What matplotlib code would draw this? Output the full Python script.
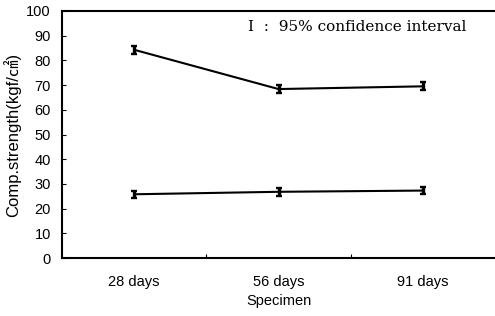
import matplotlib
matplotlib.use("Agg")
import matplotlib.pyplot as plt

categories = ["28 days", "56 days", "91 days"]
upper_values = [84.3, 68.4, 69.5]
upper_err = [1.6, 1.6, 1.6]
lower_values = [25.8, 26.8, 27.3]
lower_err = [1.5, 1.5, 1.5]
y_ticks = [0, 10, 20, 30, 40, 50, 60, 70, 80, 90, 100]

plt.rcParams['font.family'] = ['Liberation Sans', 'Noto Sans CJK KR', 'DejaVu Sans']

fig = plt.figure(figsize=(4.95, 3.16), dpi=100)
ax = fig.add_axes([62/495, 1-258/316, 1-62/495, (258-11)/316])

xpos = [i + 0.5 for i in range(len(categories))]
for vals, errs in [(upper_values, upper_err), (lower_values, lower_err)]:
    ax.errorbar(xpos, vals, yerr=errs, color='black', lw=1.5,
                elinewidth=2.4, capsize=2.5, capthick=1.7)

ax.set_xlim(0, 3)
ax.set_ylim(0, 100)
ax.set_yticks(y_ticks)
ax.set_yticklabels([str(t) for t in y_ticks], fontsize=10.5)
ax.tick_params(axis='y', direction='in', length=3, width=0.8, pad=8)
ax.set_xticks([1, 2], minor=False)
ax.set_xticklabels([])
ax.tick_params(axis='x', direction='in', length=3, width=0.8)
ax.set_xticks(xpos, minor=True)
ax.set_xticklabels(categories, minor=True, fontsize=10.5)
ax.tick_params(axis='x', which='minor', length=0, pad=12)

for s in ['left', 'bottom', 'top']:
    ax.spines[s].set_linewidth(1.5)
ax.spines['right'].set_visible(False)

ax.set_xlabel("Specimen", fontsize=10.5, labelpad=4)
ax.set_ylabel("Comp.strength(kgf/㎠)", fontsize=12, labelpad=4)

ax.text(1.29, 93.5, "I  :  95% confidence interval", family='DejaVu Serif',
        fontsize=11, va='center', ha='left')

fig.savefig("out.png", dpi=100)
